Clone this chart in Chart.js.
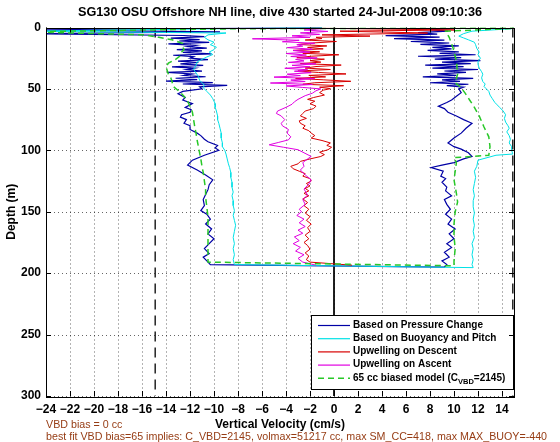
<!DOCTYPE html>
<html>
<head>
<meta charset="utf-8">
<script src="https://cdn.jsdelivr.net/npm/chart.js@4.4.0/dist/chart.umd.min.js"></script>
<style>
  body { margin: 0; background: #fff; }
</style>
</head>
<body>
<canvas id="diveChart" width="560" height="442"></canvas>
<script>
// [depth (m), vertical velocity (cm/s)]
const pressureDown = [
  [0,-1],[2,-26],[3.5,-9.5],[5,-25],[6.5,-12.5],
  [7.5,-10.8],[8.6,-13.6],[9.8,-11.2],[11,-12.9],[12.1,-10.4],[13.3,-13.8],[14.5,-11.5],[15.6,-12.2],
  [16.8,-10.6],[18,-13.1],[19.1,-11.0],[20.3,-12.6],[21.5,-10.2],[22.6,-13.4],[23.8,-11.7],[25,-12.0],
  [26.1,-10.5],[27.3,-13.0],[28.5,-11.3],[29.6,-12.8],[30.8,-10.9],[32,-13.5],[33.1,-11.6],[34.3,-12.3],
  [35.5,-11.0],[36.6,-13.9],[37.8,-11.8],[39,-12.5],[40.1,-10.7],[41.3,-13.2],[42.5,-11.4],[43.6,-14.0],
  [44.8,-10.1],[46,-12.6],[47.1,-8.9],[48.3,-11.2],
  [50,-11.0],[52,-12.6],[54,-13.0],[57,-12.4],[59,-12.6],[62,-11.8],[65,-12.4],[67,-11.9],[69,-12.0],
  [71,-12.7],[73,-12.8],[75,-12.3],[78,-12.5],[80,-12.0],[83,-12.0],[86,-11.4],[88,-11.1],[91,-10.8],
  [93,-10.5],[96,-9.7],[98,-9.9],[100,-9.6],[104,-10.8],[108,-11.8],[112,-12.2],[116,-11.4],[120,-10.7],
  [124,-10.1],[128,-10.4],[132,-10.5],[136,-10.7],[140,-10.9],[145,-10.8],[149,-11.1],[152,-10.6],
  [156,-10.3],[160,-10.7],[164,-10.2],[168,-10.5],[172,-10.0],[176,-10.4],[180,-10.8],[184,-10.4],
  [187,-10.9],[190,-10.6],[193,-10.3]
];
const pressureUp = [
  [195,9.2],[193,9.4],[190,9.0],[187,9.6],[183,9.2],[179,9.8],[176,9.4],[172,10.0],[168,9.6],[164,10.1],
  [160,9.5],[156,9.8],[152,9.3],[148,9.7],[144,9.4],[140,9.2],[137,9.8],[133,9.3],[130,9.4],[126,9.0],
  [123,9.3],[121,8.9],[117,9.1],[114,8.1],[112,9.0],[110,10.0],[107,10.8],[105,11.5],[102,11.2],[99,10.6],
  [97,10.0],[94,9.5],[90,10.0],[86,10.6],[82,11.0],[78,11.5],[75,10.8],[72,10.2],[69,9.5],[66,9.2],
  [64,8.7],[61,9.4],[59,9.8],[56,10.2],[53,10.6],[50,10.4],
  [48.6,10.8],[47.4,9.4],[46.2,11.2],[45,8.0],[43.8,10.5],[42.6,9.0],[41.4,11.6],[40.2,7.4],[39,10.2],
  [37.8,8.6],[36.6,11.0],[35.4,9.2],[34.2,12.0],[33,8.2],[31.8,10.8],[30.6,7.6],[29.4,11.4],[28.2,9.0],
  [27,12.2],[25.8,8.4],[24.6,10.6],[23.4,7.0],[22.2,11.8],[21,8.8],[19.8,10.4],[18.6,7.8],[17.4,9.8],
  [16.2,8.2],[15,10.4],[13.8,7.2],[12.6,9.6],[11.4,6.4],[10.2,9.2],[9,5.0],[7.8,8.8],[6.6,4.3],[5.4,8.6],
  [4.2,7.0],[3,9.5],[1.8,8.0],[0.8,10.0]
];
const buoyancyDown = [
  [0,-1],[3,-26],[4.5,-9.0],[6,-10.5],[8,-10.8],[10,-10.5],[12,-10.0],[14,-10.3],[16,-9.8],[18,-10.0],
  [20,-10.4],[22,-10.1],[24,-10.6],[26,-11.0],[28,-11.4],[31,-11.5],[34,-11.7],[37,-11.5],[40,-11.3],
  [43,-11.2],[45,-11.0],[47,-10.8],[49,-10.9],[52,-10.6],[55,-10.3],[58,-10.1],[62,-9.9],[65,-9.9],
  [68,-9.8],[72,-9.7],[75,-9.7],[78,-9.6],[82,-9.5],[86,-9.4],[90,-9.4],[94,-9.3],[97,-9.3],[100,-9.1],
  [103,-9.0],[107,-8.9],[111,-8.8],[114,-8.7],[118,-8.6],[122,-8.6],[126,-8.5],[130,-8.5],[134,-8.4],
  [137,-8.5],[141,-8.4],[145,-8.4],[149,-8.3],[153,-8.4],[157,-8.3],[161,-8.2],[166,-8.3],[171,-8.4],
  [176,-8.3],[180,-8.4],[185,-8.3],[189,-8.4],[193,-8.3]
];
const buoyancyUp = [
  [195.5,11.6],[193,11.5],[189,11.6],[185,11.5],[180,11.6],[176,11.5],[171,11.7],[166,11.6],[161,11.7],
  [156,11.6],[151,11.7],[146,11.6],[141,11.6],[137,11.7],[132,11.6],[127,11.7],[122,11.8],[117,11.7],
  [113,11.9],[108,12.0],[104,13.5],[103,14.9],[100,14.8],[97,14.8],[94,14.6],[91,14.7],[88,14.6],
  [85,14.4],[82,14.6],[80,14.5],[77,14.3],[74,14.2],[71,14.3],[68,14.1],[65,13.8],[63,13.6],[61,13.4],
  [58,13.2],[55,13.0],[52,12.9],[50,12.7],[48,12.5],[46,12.6],[44,12.4],[41,12.3],[38,12.4],[36,12.3],
  [33,12.1],[30,12.0],[28,12.0],[25,12.2],[22,12.0],[20,12.1],[17,11.9],[14,11.8],[12,11.7],[10,11.2],
  [8.5,10.8],[7,10.4],[5,10.8],[3,11.5],[1,14.8]
];
const upwellDescent = [
  [0.5,-2],[2,10],[3,0.5],[4.5,7.8],[6,-1.0],[7,3],[8,-1.5],
  [9,-1.0],[10.2,-2.4],[11.4,0.2],[12.6,-1.8],[13.8,-3.0],[15,-0.6],[16.2,-2.2],[17.4,-0.9],[18.6,-3.4],
  [19.8,-1.2],[21,-2.6],[22.2,0.4],[23.4,-1.9],[24.6,-3.1],[25.8,-0.8],[27,-2.0],[28.2,-1.1],[29.4,-2.8],
  [30.6,0.6],[31.8,-1.5],[33,-2.4],[34.2,-0.3],[35.4,-3.0],[36.6,-1.3],[37.8,1.0],[39,-2.1],[40.2,-0.7],
  [41.4,-3.2],[42.6,-0.9],[43.8,1.4],[45,-1.6],[46.2,-2.6],[47.4,0.8],[48.6,-1.2],[49.8,-0.3],
  [51,-0.9],[53,-1.2],[55,-0.8],[57,-1.7],[58.5,-2.2],[60,-1.6],[62,-2.0],[64,-1.5],[66,-1.7],[68,-2.4],
  [70,-2.6],[72,-2.8],[74,-2.3],[76,-2.9],[78,-2.8],[80,-2.4],[82,-2.6],[84,-2.1],[86,-1.9],[88,-1.6],
  [90,-1.9],[92,-1.0],[94,-0.3],[96,-0.6],[97.5,-0.2],[99.5,-0.5],[101.5,-1.2],[103.5,-0.8],[105,-1.1],
  [107,-2.0],[109,-2.8],[111,-3.0],[113,-3.6],[115,-3.4],[117,-2.9],[119,-2.4],[121,-2.6],[123,-2.0],
  [125,-1.9],[127,-2.3],[129,-2.0],[131,-2.4],[133,-2.1],[135,-2.5],[137,-2.1],[139.5,-2.6],[142.5,-2.2],
  [145,-2.5],[148,-2.1],[151,-2.4],[154,-2.0],[157,-2.3],[160,-1.9],[163,-2.2],[166,-2.0],[169,-2.4],
  [172,-2.1],[175,-2.5],[177.5,-2.2],[180.5,-2.0],[183.5,-2.4],[186,-2.1],[189,-2.3],[191,-2.0],[193.5,1.5]
];
const upwellAscent = [
  [193.5,-1.5],[191,-2.6],[188,-3.0],[185,-2.5],[182,-3.2],[179,-2.8],[176,-3.4],[173.5,-2.9],[170.5,-3.3],
  [167.5,-2.6],[165,-3.0],[162,-2.4],[159,-2.9],[156,-2.5],[153,-3.1],[150,-2.7],[148,-2.9],[144,-2.4],
  [140,-2.6],[136.5,-2.2],[131.5,-2.5],[127.5,-2.1],[124,-1.9],[120,-2.4],[116,-2.8],[113,-2.5],[110,-2.6],
  [107,-2.2],[105,-1.9],[102,-2.5],[99.5,-3.0],[97.5,-4.2],[95.5,-5.4],[93.5,-4.6],[91.5,-3.8],[89,-3.6],
  [86,-3.9],[83,-3.8],[80,-4.3],[78,-4.4],[75,-4.1],[72,-4.4],[70,-4.8],[68,-4.7],[65,-4.0],[62.5,-3.5],
  [60.5,-3.3],[58.5,-3.0],[55.5,-2.4],[53.5,-1.8],[51.5,-1.5],[50,-1.1],
  [48.8,-2.6],[47.6,-4.0],[46.4,-1.8],[45.2,-5.3],[44,-2.4],[42.8,-3.6],[41.6,-1.6],[40.4,-5.0],[39.2,-2.8],
  [38,-3.9],[36.8,-1.9],[35.6,-3.3],[34.4,-2.2],[33.2,-4.1],[32,-2.0],[30.8,-3.5],[29.6,-1.5],[28.4,-3.8],
  [27.2,-2.5],[26,-3.2],[24.8,-1.4],[23.6,-3.6],[22.4,-2.3],[21.2,-4.0],[20,-2.0],[18.8,-3.4],[17.6,-1.8],
  [16.4,-3.9],[15.2,-2.6],[14,-3.1],[12.8,-1.6],[11.6,-4.3],[10.4,-2.9],[9.2,-6.8],[8,-2.0],[6.8,-3.5],
  [5.6,-1.2],[4.4,-2.8],[3.2,-0.5],[2,-2.5],[0.8,-0.8]
];
const modelDown = [
  [0.3,16],[1,-8],[3.5,-26],[6,-15.8],[8,-14.6],[10,-13.5],[13,-12.6],[16,-12.6],[18,-12.5],[20,-12.7],
  [23,-12.8],[26,-13.2],[29,-13.8],[32,-14.0],[35,-13.9],[38,-13.8],[41,-13.6],[44,-13.5],[48,-13.4],
  [52,-12.9],[56,-12.5],[60,-12.2],[64,-12.0],[69,-11.8],[75,-11.7],[81,-11.6],[86,-11.5],[92,-11.4],
  [97,-11.3],[102,-11.2],[107,-11.1],[113,-11.0],[118,-10.9],[125,-10.8],[132,-10.7],[138,-10.7],
  [146,-10.6],[154,-10.5],[162,-10.5],[170,-10.5],[178,-10.5],[185,-10.5],[191,-10.5]
];
const modelUp = [
  [194,10.0],[190,10.0],[180,10.1],[170,10.0],[160,10.0],[150,10.1],[142,10.3],[135,10.2],[124,10.0],
  [117,10.1],[110,10.2],[106,10.0],[104,12.9],[97,13.0],[89,12.9],[81,12.5],[72,12.1],[65,11.7],[59,11.3],
  [53,10.9],[48,10.5],[45,10.1],[38,10.3],[27,10.2],[16,9.9],[8,9.6],[3,9.3],[0.5,15.5]
];
const velocityLimits = [-14.9, 14.9];
const depthRange = [0, 300];
const velTicks = { min: -24, max: 15, step: 2 };
const depthTicks = { min: 0, max: 300, step: 50 };

const legendLabels = [
  'Based on Pressure Change',
  'Based on Buoyancy and Pitch',
  'Upwelling on Descent',
  'Upwelling on Ascent',
  '65 cc biased model (C'
];

const toPts = rows => rows.map(r => ({ x: r[1], y: r[0] }));

const colors = {
  pressure: 'rgb(0,0,165)',
  buoyancy: 'rgb(0,225,230)',
  descent: 'rgb(215,0,0)',
  ascent: 'rgb(225,0,225)',
  model: 'rgb(40,200,40)'
};

function line(rows, color, extra) {
  return Object.assign({
    data: toPts(rows),
    showLine: true,
    borderColor: color,
    backgroundColor: color,
    borderWidth: 1,
    pointRadius: 0,
    fill: false,
    tension: 0
  }, extra || {});
}

const datasets = [
  line(pressureDown.concat(pressureUp), colors.pressure, { order: 5, borderWidth: 1.2 }),
  line(buoyancyDown.concat(buoyancyUp), colors.buoyancy, { order: 4 }),
  line(upwellDescent, colors.descent, { order: 3 }),
  line(upwellAscent, colors.ascent, { order: 2 }),
  line(modelDown.concat(modelUp), colors.model, { order: 1, borderDash: [6, 4], borderWidth: 1.5 }),
  line([[depthRange[0], 0], [depthRange[1], 0]], '#000', { order: 6 })
];
velocityLimits.forEach(v => {
  datasets.push(line([[depthRange[0], v], [depthRange[1], v]], '#222', { order: 7, borderDash: [10, 6], borderWidth: 1.5 }));
});

const tickFont = { family: 'Liberation Sans', weight: 'bold', size: 12 };

const decorPlugin = {
  id: 'decor',
  beforeDatasetsDraw(chart) {
    const { ctx, chartArea: a, scales: { x, y } } = chart;
    ctx.save();
    ctx.strokeStyle = 'rgba(0,0,0,0.6)';
    ctx.lineWidth = 1;
    ctx.setLineDash([1, 3]);
    x.ticks.forEach(t => {
      const px = Math.round(x.getPixelForValue(t.value)) + 0.5;
      ctx.beginPath(); ctx.moveTo(px, a.top); ctx.lineTo(px, a.bottom); ctx.stroke();
    });
    y.ticks.forEach(t => {
      const py = Math.round(y.getPixelForValue(t.value)) + 0.5;
      ctx.beginPath(); ctx.moveTo(a.left, py); ctx.lineTo(a.right, py); ctx.stroke();
    });
    ctx.restore();
  },
  afterDraw(chart) {
    const { ctx, chartArea: a, scales: { x, y } } = chart;
    ctx.save();

    // legend box
    const lx = 311, ly = 315, lw = 202, lh = 74;
    ctx.fillStyle = '#fff';
    ctx.fillRect(lx, ly, lw, lh);
    ctx.strokeStyle = '#000';
    ctx.lineWidth = 1;
    ctx.strokeRect(lx + 0.5, ly + 0.5, lw, lh);
    const legendColors = [colors.pressure, colors.buoyancy, colors.descent, colors.ascent, colors.model];
    ctx.textBaseline = 'middle';
    ctx.textAlign = 'left';
    legendLabels.forEach((lab, i) => {
      const yy = ly + 10 + i * 13.2;
      ctx.strokeStyle = legendColors[i];
      ctx.lineWidth = i === 4 ? 1.5 : 1.2;
      ctx.setLineDash(i === 4 ? [6, 4] : []);
      ctx.beginPath(); ctx.moveTo(lx + 7, yy + 0.5); ctx.lineTo(lx + 39, yy + 0.5); ctx.stroke();
      ctx.setLineDash([]);
      ctx.fillStyle = '#000';
      ctx.font = 'bold 10px "Liberation Sans"';
      ctx.fillText(lab, lx + 42, yy);
      if (i === 4) {
        let tx = lx + 42 + ctx.measureText(lab).width;
        ctx.font = 'bold 7.5px "Liberation Sans"';
        ctx.fillText('VBD', tx, yy + 4);
        tx += ctx.measureText('VBD').width;
        ctx.font = 'bold 10px "Liberation Sans"';
        ctx.fillText('=2145)', tx, yy);
      }
    });

    // frame and inward ticks
    ctx.strokeStyle = '#000';
    ctx.lineWidth = 1;
    ctx.strokeRect(Math.round(a.left) + 0.5, Math.round(a.top) + 0.5, Math.round(a.right - a.left), Math.round(a.bottom - a.top));
    ctx.beginPath();
    x.ticks.forEach(t => {
      const px = Math.round(x.getPixelForValue(t.value)) + 0.5;
      ctx.moveTo(px, a.bottom); ctx.lineTo(px, a.bottom - 5);
      ctx.moveTo(px, a.top); ctx.lineTo(px, a.top + 5);
    });
    y.ticks.forEach(t => {
      const py = Math.round(y.getPixelForValue(t.value)) + 0.5;
      ctx.moveTo(a.left, py); ctx.lineTo(a.left + 5, py);
      ctx.moveTo(a.right, py); ctx.lineTo(a.right - 5, py);
    });
    ctx.stroke();

    // title and axis titles
    ctx.fillStyle = '#000';
    ctx.textAlign = 'center';
    ctx.font = 'bold 12.7px "Liberation Sans"';
    ctx.fillText('SG130 OSU Offshore NH line, dive 430 started 24-Jul-2008 09:10:36', (a.left + a.right) / 2, 12);
    ctx.font = 'bold 12px "Liberation Sans"';
    ctx.fillText('Vertical Velocity (cm/s)', (a.left + a.right) / 2, 425);
    ctx.save();
    ctx.translate(12, (a.top + a.bottom) / 2);
    ctx.rotate(-Math.PI / 2);
    ctx.fillText('Depth (m)', 0, 0);
    ctx.restore();

    // footer notes
    ctx.fillStyle = 'rgb(150,60,20)';
    ctx.textAlign = 'left';
    ctx.font = '10.7px "Liberation Sans"';
    ctx.fillText('VBD bias = 0 cc', 46, 425);
    ctx.fillText('best fit VBD bias=65 implies: C_VBD=2145, volmax=51217 cc, max SM_CC=418, max MAX_BUOY=-440', 46, 437);
    ctx.restore();
  }
};

new Chart(document.getElementById('diveChart'), {
  type: 'scatter',
  data: { datasets: datasets },
  options: {
    responsive: false,
    animation: false,
    layout: { padding: { top: 27.5, right: 46, left: 0, bottom: 0 } },
    plugins: {
      legend: { display: false },
      title: { display: false },
      tooltip: { enabled: false }
    },
    scales: {
      x: {
        type: 'linear',
        min: velTicks.min,
        max: velTicks.max,
        afterFit: s => { s.height = 46; },
        grid: { display: false, drawTicks: false },
        border: { display: false },
        ticks: {
          stepSize: velTicks.step,
          includeBounds: false,
          autoSkip: false,
          maxRotation: 0,
          padding: 6,
          color: '#000',
          font: tickFont,
          callback: v => String(v).replace('-', '\u2212')
        }
      },
      y: {
        type: 'linear',
        reverse: true,
        min: depthTicks.min,
        max: depthTicks.max,
        afterFit: s => { s.width = 46; },
        grid: { display: false, drawTicks: false },
        border: { display: false },
        ticks: {
          stepSize: depthTicks.step,
          padding: 5,
          color: '#000',
          font: tickFont
        }
      }
    }
  },
  plugins: [decorPlugin]
});
</script>
</body>
</html>
